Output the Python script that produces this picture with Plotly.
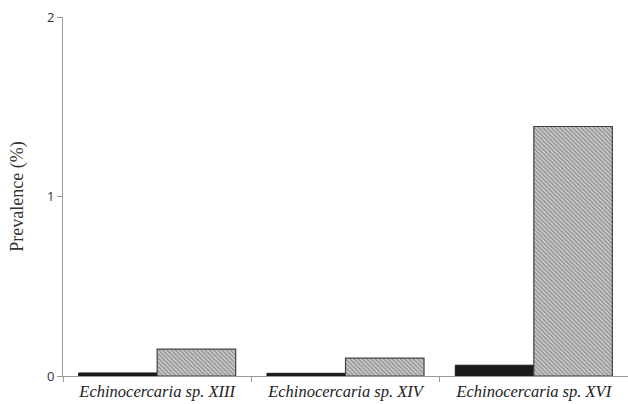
import plotly.graph_objects as go

categories = ["Echinocercaria sp. XIII", "Echinocercaria sp. XIV", "Echinocercaria sp. XVI"]
series_a = [0.017, 0.015, 0.06]   # solid black
series_b = [0.15, 0.10, 1.39]     # hatched
ytick_vals = [0, 1, 2]

fig = go.Figure()
fig.add_trace(go.Bar(x=categories, y=series_a, marker=dict(color="#1a1a1a", line=dict(color="#1a1a1a", width=1)), showlegend=False))
fig.add_trace(go.Bar(x=categories, y=series_b,
                     marker=dict(color="#ffffff", line=dict(color="#444444", width=1.2),
                                 pattern=dict(shape="\\", size=3, solidity=0.5, fgcolor="#555555", bgcolor="#d0d0d0")),
                     showlegend=False))

fig.update_layout(
    width=628, height=404,
    margin=dict(l=63, r=0, t=17, b=28, autoexpand=False),
    paper_bgcolor="white", plot_bgcolor="white",
    barmode="group", bargap=0.166, bargroupgap=0,
    xaxis=dict(showline=True, linecolor="#9a9a9a", linewidth=1, ticks="outside", tickson="boundaries",
               ticklen=5, tickcolor="#9a9a9a", automargin=False,
               tickfont=dict(family="Liberation Serif", size=16.5, color="#222222", style="italic"),
               showgrid=False, tickangle=0),
    yaxis=dict(range=[0, 2], tickvals=ytick_vals, showline=True, linecolor="#9a9a9a", linewidth=1,
               ticks="outside", ticklen=5, tickcolor="#9a9a9a", showgrid=False, zeroline=False,
               automargin=False,
               tickfont=dict(family="Open Sans", size=13, color="#333333"),
               title=dict(text="Prevalence (%)", font=dict(family="Liberation Serif", size=18, color="#333333"), standoff=18)),
)
fig.write_html("out.html", config={"displayModeBar": False},
               post_script="document.body.style.margin='0';document.body.style.overflow='hidden';")
